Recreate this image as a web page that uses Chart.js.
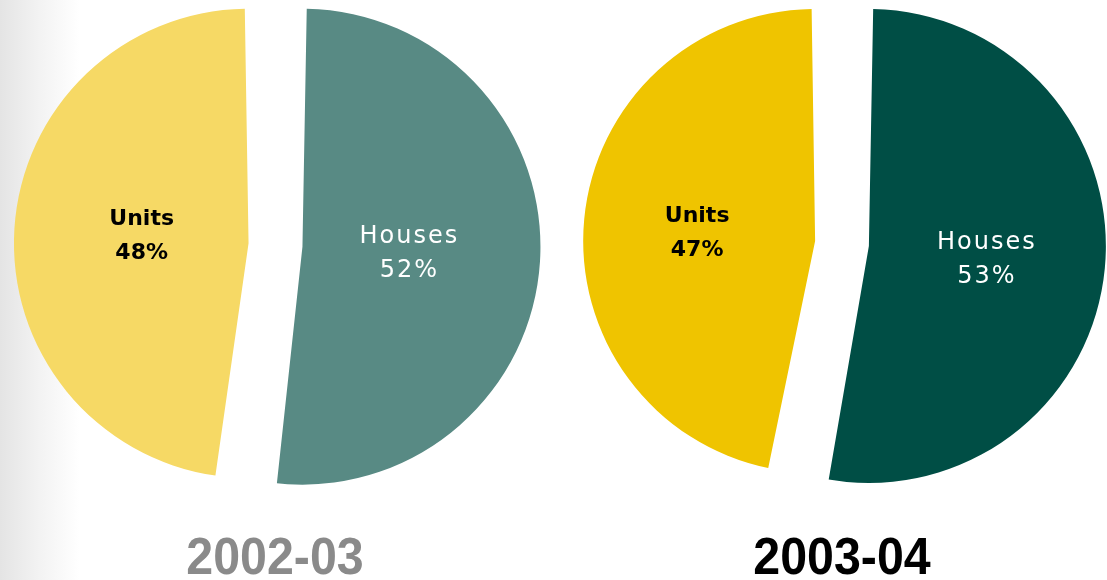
<!DOCTYPE html>
<html>
<head>
<meta charset="utf-8">
<script src="https://cdn.jsdelivr.net/npm/chart.js@4"></script>
<style>
  html, body { margin: 0; padding: 0; }
  body {
    width: 1107px; height: 580px; position: relative; overflow: hidden;
    background: linear-gradient(to right, #e4e4e4 0px, #f3f3f3 40px, #ffffff 80px);
  }
  .pie { position: absolute; }
  .year {
    position: absolute; top: 526px; width: 300px; text-align: center;
    font: bold 52px "Liberation Sans", Arial, sans-serif;
    transform: scaleX(0.93);
  }
</style>
</head>
<body>
<canvas id="pie1" class="pie" style="left:0px; top:0px;" width="551" height="490"></canvas>
<canvas id="pie2" class="pie" style="left:577px; top:0px;" width="530" height="487"></canvas>
<div class="year" style="left:125px; color:#8a8a8a;">2002-03</div>
<div class="year" style="left:692px; color:#000;">2003-04</div>
<script>
// data
const categories = ["Houses", "Units"];
const share2002 = [52, 48];
const share2003 = [53, 47];
const years = ["2002-03", "2003-04"];

const colors2002 = ["#588a84", "#f6d965"];
const colors2003 = ["#004e45", "#efc400"];
const textColors = ["#ffffff", "#000000"];

// draws "Houses / 52%" inside each slice
const sliceLabels = {
    id: "sliceLabels",
    afterDatasetsDraw(chart, args, opts) {
        const ctx = chart.ctx;
        const meta = chart.getDatasetMeta(0);
        const values = chart.data.datasets[0].data;
        meta.data.forEach((arc, i) => {
            const mid = (arc.startAngle + arc.endAngle) / 2;
            const shift = arc.options.offset / 4; // how far chart.js moves the slice
            const dist = shift + (arc.outerRadius + shift) * opts.ratio;
            const x = arc.x + Math.cos(mid) * dist;
            const y = arc.y + Math.sin(mid) * dist + opts.dy;
            const bold = i === 1;
            ctx.save();
            ctx.fillStyle = textColors[i];
            ctx.textAlign = "center";
            ctx.textBaseline = "middle";
            ctx.font = bold ? "bold 22px 'DejaVu Sans'" : "24px 'DejaVu Sans'";
            ctx.letterSpacing = bold ? "0px" : "2px";
            ctx.fillText(chart.data.labels[i], x, y - 17);
            ctx.fillText(values[i] + "%", x, y + 17);
            ctx.restore();
        });
    }
};

function makePie(id, values, colors, radius, ratio, dy) {
    const el = document.getElementById(id);
    return new Chart(el.getContext("2d"), {
        type: "pie",
        data: {
            labels: categories,
            datasets: [{
                data: values,
                backgroundColor: colors,
                borderWidth: 0,
                offset: 108
            }]
        },
        options: {
            responsive: false,
            animation: false,
            radius: radius,
            layout: { padding: 0 },
            plugins: {
                legend: { display: false },
                tooltip: { enabled: false },
                sliceLabels: { ratio: ratio, dy: dy }
            }
        },
        plugins: [sliceLabels]
    });
}

makePie("pie1", share2002, colors2002, 211, 0.45, 0);
makePie("pie2", share2003, colors2003, 210, 0.5, 3);
</script>
</body>
</html>
